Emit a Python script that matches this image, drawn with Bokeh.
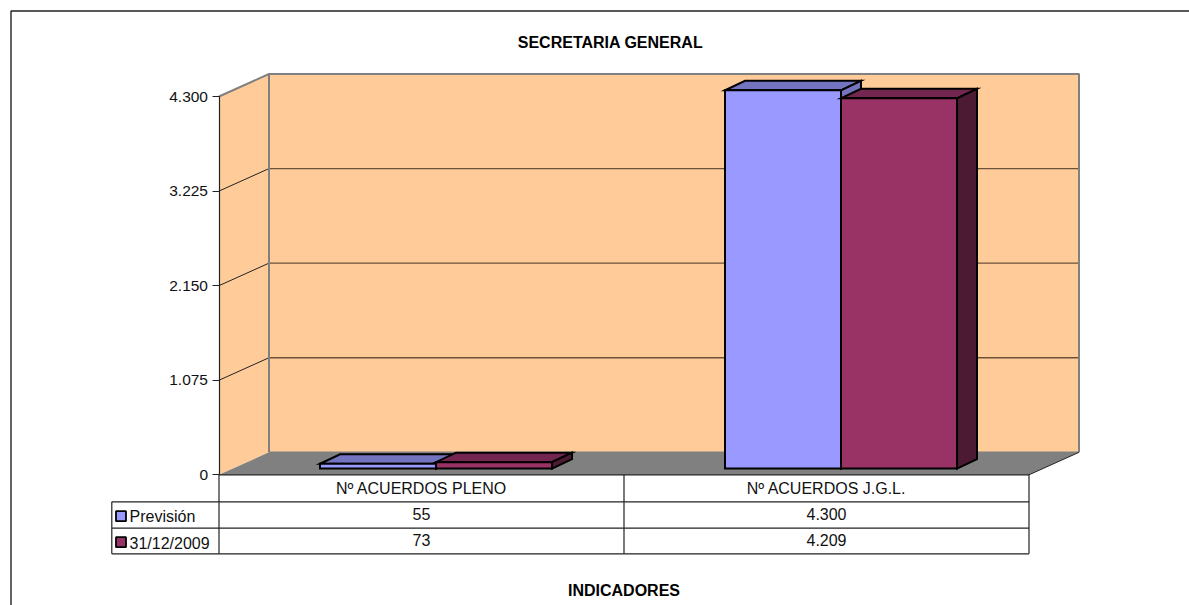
from bokeh.plotting import figure
from bokeh.embed import file_html
from bokeh.resources import INLINE
from bokeh.core.properties import value
from bokeh.models import Range1d, FixedTicker, LinearAxis

categories = ["Nº ACUERDOS PLENO", "Nº ACUERDOS J.G.L."]
series_names = ["Previsión", "31/12/2009"]
prevision = [55, 4300]
actual = [73, 4209]
table_prevision = ["55", "4.300"]
table_actual = ["73", "4.209"]
tick_values = [0, 1075, 2150, 3225, 4300]
tick_labels = ["0", "1.075", "2.150", "3.225", "4.300"]
title_text = "SECRETARIA GENERAL"
xlabel_text = "INDICADORES"
face_colors = ["#9999FF", "#993366"]
top_colors = ["#7373BF", "#732650"]
side_colors = ["#7373BF", "#4D1A33"]

W, H = 1189, 605
X0_PAGE = 218.5
PX_CAT = 405.0
Y0_PAGE = 474.3
PX_VAL = 378.3 / 4300
FONT = "Liberation Sans"

def X(page_x):
    return (page_x - X0_PAGE) / PX_CAT

def Y(page_y):
    return (Y0_PAGE - page_y) / PX_VAL

DX = 50 / PX_CAT          # wall depth, x
DY = 22.5 / PX_VAL        # wall depth, y
BAR_W = 116 / PX_CAT
BAR_OFF_X = 14.5 / PX_CAT
BAR_OFF_Y = 6.2 / PX_VAL
BAR_DX = 20 / PX_CAT
BAR_DY = 9.5 / PX_VAL

p = figure(width=W, height=H, output_backend="svg", toolbar_location=None, tools="",
           x_range=Range1d(X(0), X(W)), y_range=Range1d(Y(H), Y(0)),
           x_axis_location=None, y_axis_location=None,
           min_border=0, outline_line_color=None, background_fill_color="white")
p.center = []

top = tick_values[-1]
n = len(categories)

# chart border
p.line([X(10.5), X(10.5), X(W + 5)], [Y(H + 5), Y(10.5), Y(10.5)], line_color="#222222", line_width=1.4)

# walls and floor
p.patch([0, DX, DX, 0], [0, DY, top + DY, top], fill_color="#FFCC99", line_color=None)
p.patch([DX, n + DX, n + DX, DX], [DY, DY, top + DY, top + DY], fill_color="#FFCC99", line_color=None)
p.patch([0, n, n + DX, DX], [0, 0, DY, DY], fill_color="#808080", line_color=None)

# gridlines
for t in tick_values[1:-1]:
    p.line([0, DX], [t, t + DY], line_color="#222222", line_width=1)
    p.line([DX, n + DX], [t + DY, t + DY], line_color="#6B5238", line_width=1.3)

# wall outlines
p.line([0, DX, n + DX, n + DX], [top, top + DY, top + DY, DY], line_color="#808080", line_width=2)
p.line([DX, DX], [DY, top + DY], line_color="#808080", line_width=2)
p.line([DX, n + DX], [DY, DY], line_color="#808080", line_width=1.5)
p.line([n, n + DX], [0, DY], line_color="#222222", line_width=1)

# bars
for s, vals in enumerate([prevision, actual]):
    for c, v in enumerate(vals):
        x0 = c + 0.5 + BAR_OFF_X - BAR_W + s * BAR_W
        x1 = x0 + BAR_W
        y0 = BAR_OFF_Y
        y1 = BAR_OFF_Y + v
        kw = dict(line_color="#000000", line_width=2, line_join="miter")
        p.patch([x0, x1, x1 + BAR_DX, x0 + BAR_DX], [y1, y1, y1 + BAR_DY, y1 + BAR_DY],
                fill_color=top_colors[s], **kw)
        p.patch([x1, x1 + BAR_DX, x1 + BAR_DX, x1], [y0, y0 + BAR_DY, y1 + BAR_DY, y1],
                fill_color=side_colors[s], **kw)
        p.patch([x0, x1, x1, x0], [y0, y0, y1, y1], fill_color=face_colors[s], **kw)

# data table
rows_y = [Y(474.3), Y(501.3), Y(527.7), Y(553.3)]
grid_kw = dict(line_color="#222222", line_width=1.2)
p.line([0, n], [rows_y[0], rows_y[0]], **grid_kw)
for ry in rows_y[1:]:
    p.line([X(111.3), n], [ry, ry], **grid_kw)
for cx in range(n + 1):
    p.line([cx, cx], [rows_y[0], rows_y[-1]], **grid_kw)
p.line([X(111.3), X(111.3)], [rows_y[1], rows_y[-1]], **grid_kw)

centers = [i + 0.5 for i in range(n)]
text_kw = dict(text_font=value(FONT), text_font_size="16px", text_color="#111111",
               text_align="center", text_baseline="middle")
p.text(centers, [Y(488)] * n, text=categories, **text_kw)
p.text(centers, [Y(513.8)] * n, text=table_prevision, **text_kw)
p.text(centers, [Y(539.8)] * n, text=table_actual, **text_kw)

# legend keys in the table's row headers
key_tops = [510.7, 536.7]
text_y = [516.4, 543]
for i, name in enumerate(series_names):
    p.quad(left=[X(115.5)], right=[X(125.5)], top=[Y(key_tops[i])], bottom=[Y(key_tops[i] + 10)],
           fill_color=face_colors[i], line_color="#000000", line_width=1.8)
    p.text([X(129)], [Y(text_y[i])], text=[name], text_font=value(FONT), text_font_size="16px",
           text_color="#111111", text_align="left", text_baseline="middle")

p.text([X(610)], [Y(42)], text=[title_text], text_font=value(FONT), text_font_size="16px",
       text_font_style="bold", text_color="#000000", text_align="center", text_baseline="middle")
p.text([X(623.5)], [Y(590)], text=[xlabel_text], text_font=value(FONT), text_font_size="16px",
       text_font_style="bold", text_color="#000000", text_align="center", text_baseline="middle")

# value axis
ax = LinearAxis(fixed_location=0)
ax.ticker = FixedTicker(ticks=tick_values)
ax.major_label_overrides = dict(zip(tick_values, tick_labels))
ax.bounds = (0, top)
ax.major_tick_in = 0
ax.major_tick_out = 7
ax.minor_tick_out = 0
ax.minor_tick_in = 0
ax.major_label_standoff = 4
ax.major_label_text_font = FONT
ax.major_label_text_font_size = "15.5px"
ax.major_label_text_color = "#111111"
ax.axis_line_color = "#222222"
ax.major_tick_line_color = "#222222"
ax.axis_line_width = 1.2
p.add_layout(ax, "left")

open("out.html", "w").write(file_html(p, INLINE))
